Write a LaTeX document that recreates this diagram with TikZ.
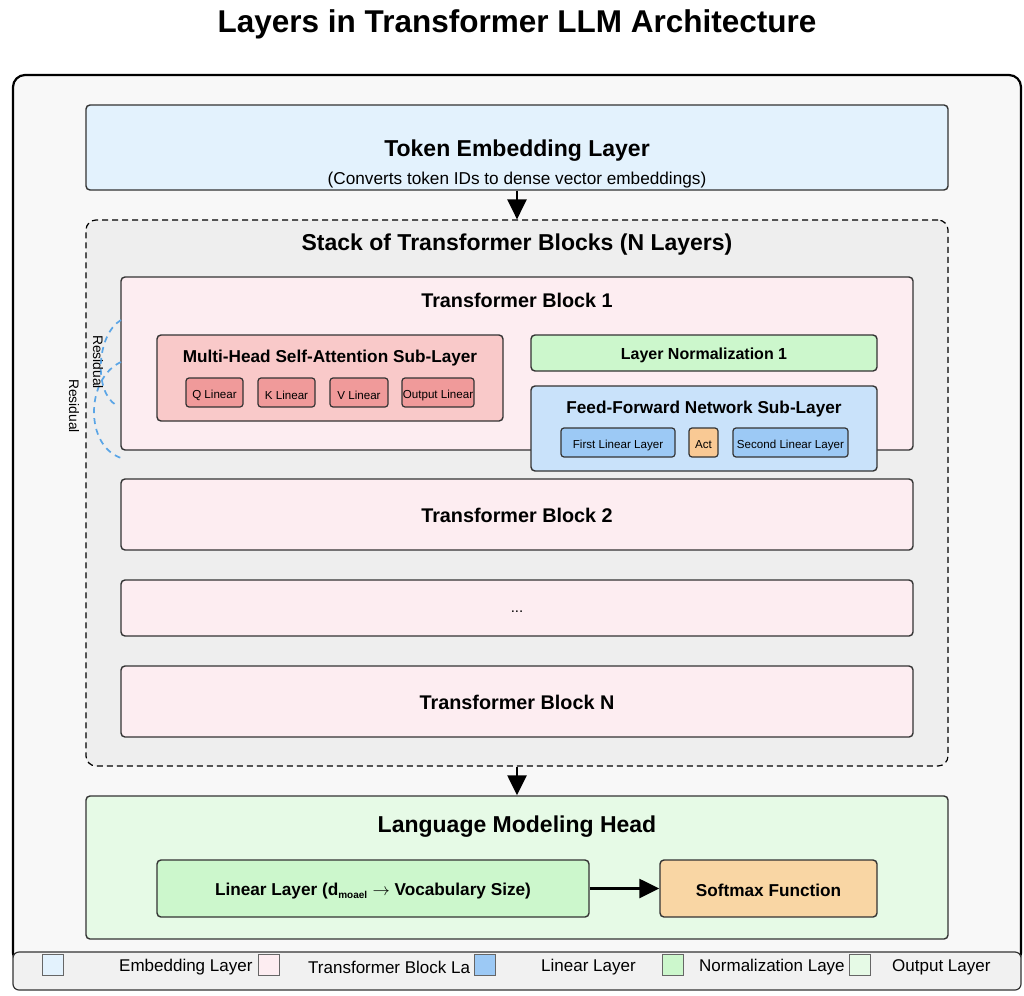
\documentclass[tikz,border=0pt]{standalone}
\usepackage{fontspec}
\setmainfont{Liberation Sans}
\usetikzlibrary{arrows.meta}
\newcommand{\fsz}[1]{\fontsize{#1}{#1}\selectfont}
\newcommand{\sinktext}[2]{\raisebox{-#1}[\height][\depth]{#2}}
\definecolor{outerfill}{HTML}{F8F8F8}
\definecolor{embfill}{HTML}{E3F2FD}
\definecolor{stackfill}{HTML}{EEEEEE}
\definecolor{blockfill}{HTML}{FDEDF1}
\definecolor{attnfill}{HTML}{F9C9C9}
\definecolor{attnsub}{HTML}{F09A9A}
\definecolor{normfill}{HTML}{CCF7CC}
\definecolor{ffnfill}{HTML}{C9E2FA}
\definecolor{linfill}{HTML}{9CC9F5}
\definecolor{actfill}{HTML}{F9C994}
\definecolor{headfill}{HTML}{E6FAE6}
\definecolor{softfill}{HTML}{F9D6A4}
\definecolor{legfill}{HTML}{F1F1F1}
\definecolor{edge}{HTML}{333333}
\definecolor{resblue}{HTML}{5AA5E6}
\tikzset{
  box/.style={draw=edge, line width=1.4pt, rounded corners=4pt, inner sep=0pt},
  subbox/.style={draw=edge, line width=1.2pt, rounded corners=3pt, inner sep=0pt},
  flow/.style={line width=2.5pt, -{Triangle[length=20pt,width=19pt]}},
  resid/.style={draw=resblue, line width=1.7pt, dash pattern=on 6pt off 5pt},
  swatch/.style={draw=gray!80!black, line width=1pt, inner sep=0pt, minimum width=21pt, minimum height=21pt},
  legtext/.style={anchor=west, inner sep=0pt, font=\fsz{17}},
}
\begin{document}
\begin{tikzpicture}[x=1pt,y=1pt]
\useasboundingbox (0,0) rectangle (1024,-995);
% title
\node[font=\fsz{31.5}\bfseries] (title) at (517,-24) {Layers in Transformer LLM Architecture};
% outer container
\node[draw=black, line width=2.2pt, rounded corners=12pt, fill=outerfill, minimum width=1008pt, minimum height=890pt, inner sep=0pt] (outer) at (517,-520) {};
% embedding
\node[box, fill=embfill, minimum width=862pt, minimum height=85pt] (emb) at (517,-147.5) {};
\node[font=\fsz{23}\bfseries] (embt) at (517,-150.5) {Token Embedding Layer};
\node[font=\fsz{17.2}] (embs) at (517,-180) {(Converts token IDs to dense vector embeddings)};
% stack
\node[draw=black, line width=1.2pt, dash pattern=on 6pt off 4pt, rounded corners=10pt, fill=stackfill, minimum width=862pt, minimum height=546pt, inner sep=0pt] (stack) at (517,-493) {};
\node[font=\fsz{23}\bfseries] (stackt) at (517,-244.5) {Stack of Transformer Blocks (N Layers)};
% block 1
\node[box, fill=blockfill, minimum width=792pt, minimum height=173pt] (b1) at (517,-363.5) {};
\node[font=\fsz{19.8}\bfseries] (b1t) at (517,-300.5) {Transformer Block 1};
% attention
\node[box, fill=attnfill, minimum width=346pt, minimum height=86pt] (attn) at (330,-378) {};
\node[font=\fsz{17.2}\bfseries] (attnt) at (330,-358.5) {Multi-Head Self-Attention Sub-Layer};
\node[subbox, fill=attnsub, minimum width=57pt, minimum height=29pt, font=\fsz{11.6}] (q) at (214.5,-392.5) {\sinktext{2.5pt}{Q Linear}};
\node[subbox, fill=attnsub, minimum width=57pt, minimum height=29pt, font=\fsz{11.6}] (k) at (286.5,-392.5) {\sinktext{2.5pt}{K Linear}};
\node[subbox, fill=attnsub, minimum width=58pt, minimum height=29pt, font=\fsz{11.6}] (v) at (359,-392.5) {\sinktext{2.5pt}{V Linear}};
\node[subbox, fill=attnsub, minimum width=72pt, minimum height=29pt, font=\fsz{11.6}] (o) at (438,-392.5) {\sinktext{2.5pt}{Output Linear}};
% layer norm
\node[box, fill=normfill, minimum width=346pt, minimum height=36pt, font=\fsz{16}\bfseries] (ln) at (704,-353) {\sinktext{2pt}{Layer Normalization 1}};
% ffn
\node[box, fill=ffnfill, minimum width=346pt, minimum height=85pt] (ffn) at (704,-428.5) {};
\node[font=\fsz{17.2}\bfseries] (ffnt) at (704,-409.5) {Feed-Forward Network Sub-Layer};
\node[subbox, fill=linfill, minimum width=114pt, minimum height=29pt, font=\fsz{11.6}] (fl1) at (618,-442.5) {\sinktext{2.5pt}{First Linear Layer}};
\node[subbox, fill=actfill, minimum width=29pt, minimum height=29pt, font=\fsz{11.6}] (act) at (703.5,-442.5) {\sinktext{2.5pt}{Act}};
\node[subbox, fill=linfill, minimum width=115pt, minimum height=29pt, font=\fsz{11.6}] (fl2) at (790.5,-442.5) {\sinktext{2.5pt}{Second Linear Layer}};
% residual
\coordinate (r1a) at (121,-320);
\coordinate (r1b) at (116,-405);
\coordinate (r2a) at (121,-362);
\coordinate (r2b) at (121,-458);
\draw[resid] (r1a) .. controls (96,-335) and (94,-392) .. (r1b);
\draw[resid] (r2a) .. controls (86,-378) and (84,-445) .. (r2b);
\node[rotate=-90, font=\fsz{13.8}] (res1) at (98,-362) {Residual};
\node[rotate=-90, font=\fsz{13.8}] (res2) at (74,-406) {Residual};
% other blocks
\node[box, fill=blockfill, minimum width=792pt, minimum height=71pt, font=\fsz{19.8}\bfseries] (b2) at (517,-514.5) {\sinktext{1pt}{Transformer Block 2}};
\node[box, fill=blockfill, minimum width=792pt, minimum height=56pt] (bdots) at (517,-608) {};
\node[font=\fsz{15}] (dots) at (517,-612) {...};
\node[box, fill=blockfill, minimum width=792pt, minimum height=71pt, font=\fsz{19.8}\bfseries] (bn) at (517,-701.5) {\sinktext{1pt}{Transformer Block N}};
% head
\node[box, fill=headfill, minimum width=862pt, minimum height=143pt] (head) at (517,-867.5) {};
\node[font=\fsz{23}\bfseries] (headt) at (517,-826.5) {Language Modeling Head};
\node[box, fill=normfill, minimum width=432pt, minimum height=57pt, font=\fsz{17.2}\bfseries] (lin) at (373,-888.5) {\sinktext{2.5pt}{Linear Layer (d\textsubscript{\fsz{10}moael} $\rightarrow$ Vocabulary Size)}};
\node[box, fill=softfill, minimum width=217pt, minimum height=57pt, font=\fsz{17.2}\bfseries] (soft) at (768.5,-888.5) {\sinktext{2pt}{Softmax Function}};
% arrows
\draw[flow] (emb.south) -- (stack.north);
\draw[flow] (stack.south) -- (head.north);
\draw[flow] (lin.east) -- (soft.west);
% legend
\node[draw=edge, line width=1.2pt, rounded corners=6pt, fill=legfill, minimum width=1008pt, minimum height=38pt, inner sep=0pt] (legend) at (517,-971) {};
\node[swatch, fill=embfill] (s1) at (53,-964.5) {};
\node[legtext] (l1) at (119,-967) {Embedding Layer};
\node[swatch, fill=blockfill] (s2) at (269,-964.5) {};
\node[legtext] (l2) at (308,-967) {Transformer Block La};
\node[swatch, fill=linfill] (s3) at (485,-964.5) {};
\node[legtext] (l3) at (541,-967) {Linear Layer};
\node[swatch, fill=normfill] (s4) at (673,-964.5) {};
\node[legtext] (l4) at (699,-967) {Normalization Laye};
\node[swatch, fill=headfill] (s5) at (860,-964.5) {};
\node[legtext] (l5) at (892,-967) {Output Layer};
\end{tikzpicture}
\end{document}
